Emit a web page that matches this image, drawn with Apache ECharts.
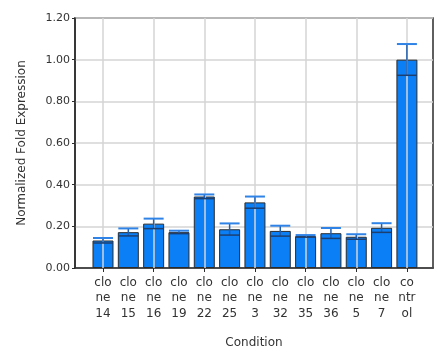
<!DOCTYPE html>
<html><head><meta charset="utf-8">
<script src="https://cdn.jsdelivr.net/npm/echarts@6/dist/echarts.min.js"></script>
<style>html,body{margin:0;padding:0;background:#fff}#c{width:447px;height:364px}</style>
</head><body><div id="c"></div>
<script>
const categories = ['clone 14','clone 15','clone 16','clone 19','clone 22','clone 25','clone 3','clone 32','clone 35','clone 36','clone 5','clone 7','control'];
const tickLabels = ['clo\nne\n14','clo\nne\n15','clo\nne\n16','clo\nne\n19','clo\nne\n22','clo\nne\n25','clo\nne\n3','clo\nne\n32','clo\nne\n35','clo\nne\n36','clo\nne\n5','clo\nne\n7','co\nntr\nol'];
const foldValues = [0.132, 0.172, 0.213, 0.172, 0.343, 0.186, 0.315, 0.178, 0.153, 0.167, 0.150, 0.193, 1.0];
const errValues = [0.012, 0.018, 0.024, 0.007, 0.010, 0.028, 0.028, 0.025, 0.005, 0.025, 0.012, 0.022, 0.075];
const yTicks = [0, 0.2, 0.4, 0.6, 0.8, 1.0, 1.2];

const idx = categories.map((c, i) => i);
const evenIdx = idx.filter(i => i % 2 === 0);
const font = 'Tahoma, "DejaVu Sans", sans-serif';

const chart = echarts.init(document.getElementById('c'), null, {renderer: 'canvas'});
chart.setOption({
  animation: false,
  backgroundColor: '#fff',
  grid: {left: 75, right: 14, top: 18, bottom: 96, show: true, borderColor: '#2b2b2b', borderWidth: 1.5, backgroundColor: 'transparent'},
  xAxis: {
    type: 'value', min: -1.105, max: 13.03,
    name: 'Condition', nameLocation: 'middle', nameGap: 69,
    nameTextStyle: {fontFamily: font, fontSize: 12, color: '#333'},
    axisLine: {show: true, onZero: false, lineStyle: {color: '#2b2b2b', width: 1.5}},
    axisTick: {show: true, length: 4, customValues: evenIdx, lineStyle: {color: '#2b2b2b'}},
    axisLabel: {customValues: idx, formatter: v => tickLabels[Math.round(v)], fontFamily: font, fontSize: 12, color: '#333', lineHeight: 15.5, margin: 7, hideOverlap: false, showMinLabel: true, showMaxLabel: true},
    splitLine: {show: false}
  },
  yAxis: {
    type: 'value', min: yTicks[0], max: yTicks[yTicks.length - 1], interval: 0.2,
    name: 'Normalized Fold Expression', nameLocation: 'middle', nameGap: 47,
    nameTextStyle: {fontFamily: font, fontSize: 12, color: '#333'},
    axisLine: {show: true, onZero: false, lineStyle: {color: '#2b2b2b', width: 1.5}},
    axisTick: {show: true, length: 3, lineStyle: {color: '#2b2b2b'}},
    axisLabel: {formatter: v => v.toFixed(2), fontFamily: font, fontSize: 11, color: '#333', margin: 5},
    splitLine: {show: true, lineStyle: {color: '#d4d4d4', width: 1.5}}
  },
  series: [
    {
      type: 'line', name: 'vgrid', data: [], z: 1, silent: true,
      markLine: {
        silent: true, symbol: ['none', 'none'], label: {show: false},
        lineStyle: {color: '#d4d4d4', width: 1.5, type: 'solid'},
        emphasis: {disabled: true},
        data: evenIdx.map(i => ({xAxis: i}))
      }
    },
    {
      type: 'bar', name: 'Fold', z: 3,
      data: foldValues.map((v, i) => [i, v]),
      barWidth: 21,
      itemStyle: {color: '#0b7ff5', borderColor: '#2b2b2b', borderWidth: 1}
    },
    {
      type: 'custom', name: 'err',
      data: foldValues.map((v, i) => [i, v - errValues[i], v + errValues[i]]),
      renderItem: function (params, api) {
        const x = api.value(0);
        const lo = api.coord([x, api.value(1)]);
        const hi = api.coord([x, api.value(2)]);
        const hw = 10;
        return {type: 'group', children: [
          {type: 'line', shape: {x1: lo[0], y1: lo[1], x2: hi[0], y2: hi[1]}, style: {stroke: '#1f5db0', lineWidth: 1.5}},
          {type: 'line', shape: {x1: lo[0] - hw, y1: lo[1], x2: lo[0] + hw, y2: lo[1]}, style: {stroke: '#1d3f70', lineWidth: 1.5}},
          {type: 'line', shape: {x1: hi[0] - hw, y1: hi[1], x2: hi[0] + hw, y2: hi[1]}, style: {stroke: '#2f82e6', lineWidth: 2}}
        ]};
      },
      z: 5
    }
  ]
});
</script></body></html>
